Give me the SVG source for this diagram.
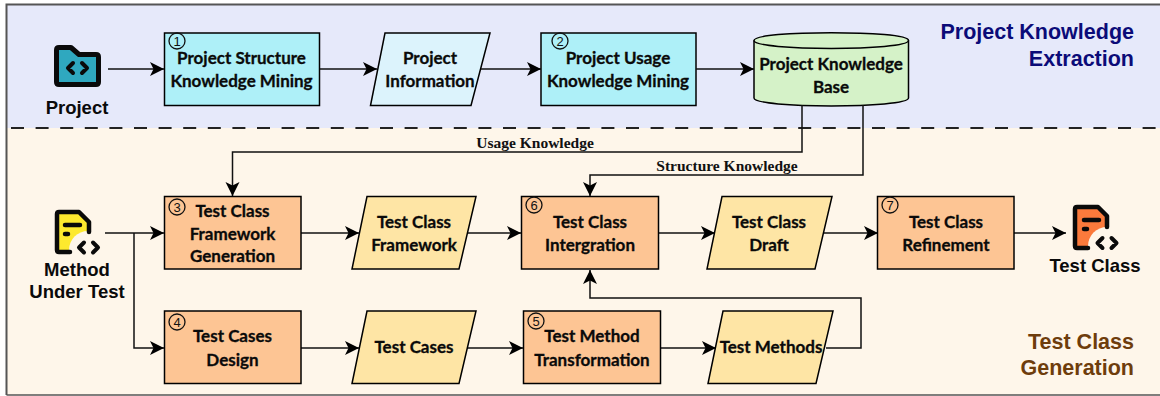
<svg xmlns="http://www.w3.org/2000/svg" width="1160" height="396" viewBox="0 0 1160 396">
<style>
text{text-anchor:middle}
.l{font:bold 17px Lato,"Liberation Sans",sans-serif;fill:#0a0a0a;stroke:#0a0a0a;stroke-width:.3}
.a{font:bold 18.5px "Liberation Sans",Arial,sans-serif;fill:#0a0a0a}
.t{font:bold 15.500px "Liberation Serif",serif;fill:#111}
.h{font:bold 21.5px "Liberation Sans",Arial,sans-serif;text-anchor:end}
.d{font:13px "Liberation Sans",Arial,sans-serif;fill:#111}
.r{fill:none;stroke:#111;stroke-width:1.3}
.s{stroke:#000;stroke-width:1.5}
.c path{fill:none;stroke:#111;stroke-width:1.5}
.o{fill:none;stroke:#0a0a0a;stroke-width:4.5;stroke-linejoin:round;stroke-linecap:round}
</style>
<defs>
<marker id="m" markerUnits="userSpaceOnUse" markerWidth="15" markerHeight="16" refX="14" refY="7" orient="auto"><path d="M0 0L14 7L0 14L3.5 7Z" fill="#000"/></marker>
<path id="code" d="M-4.500 -5L-9.500 0L-4.500 5M4.500 -5L9.500 0L4.500 5" fill="none" stroke="#0a0a0a" stroke-width="4" stroke-linecap="round" stroke-linejoin="round"/>
</defs>
<rect x="6.500" y="4.500" width="1160" height="123.500" fill="#e6e9fa"/>
<rect x="6.500" y="128" width="1160" height="267" fill="#fef6ea"/>
<path d="M6.500 395V4.500H1160" fill="none" stroke="#555" stroke-width="2"/>
<path d="M6.500 395H1160" fill="none" stroke="#555" stroke-width="1.500"/>
<path d="M11 128H1160" stroke="#222" stroke-width="2" stroke-dasharray="13 11.600"/>
<g id="title-extraction"><text class="h" x="1134" y="39" fill="#0b0b78">Project Knowledge</text><text class="h" x="1134" y="66" fill="#0b0b78">Extraction</text></g>
<g id="title-generation"><text class="h" x="1134" y="349" fill="#6e3d0c">Test Class</text><text class="h" x="1134" y="375" fill="#6e3d0c">Generation</text></g>
<g id="project"><path class="o" d="M59 47.500H71L79 54.500H96Q98.500 54.500 98.500 57V82Q98.500 84.500 96 84.500H59Q56.500 84.500 56.500 82V50Q56.500 47.500 59 47.500Z" style="fill:#2fa8bf;stroke-width:5"/><use href="#code" x="77.500" y="68"/><text class="a" x="77" y="114">Project</text></g>
<g id="n1"><rect class="s" x="164.500" y="33" width="155" height="72.500" fill="#aef0f8"/><circle class="r" cx="177" cy="41" r="8"/><text class="d" x="177" y="45.500">1</text><text class="l" x="241.500" y="64">Project Structure</text><text class="l" x="241.500" y="87">Knowledge Mining</text></g>
<g id="info"><path class="s" d="M385 33H490L471 105.500H370.500Z" fill="#dcf3fc"/><text class="l" x="430" y="64">Project</text><text class="l" x="430" y="87">Information</text></g>
<g id="n2"><rect class="s" x="541" y="33" width="155" height="72.500" fill="#aef0f8"/><circle class="r" cx="560" cy="41" r="8"/><text class="d" x="560" y="45.500">2</text><text class="l" x="618" y="64">Project Usage</text><text class="l" x="618" y="87">Knowledge Mining</text></g>
<g id="kb"><path class="s" d="M754 40.500C754 30 908.500 30 908.500 40.500V98C908.500 108.500 754 108.500 754 98Z" fill="#d5f2c8"/><path class="s" d="M754 40.500C754 51 908.500 51 908.500 40.500" fill="none"/><text class="l" x="831" y="70">Project Knowledge</text><text class="l" x="831" y="93">Base</text></g>
<g class="c" id="connectors">
<path marker-end="url(#m)" d="M108 69H164"/>
<path marker-end="url(#m)" d="M320 69H377"/>
<path marker-end="url(#m)" d="M481 69H541"/>
<path marker-end="url(#m)" d="M696 69H754"/>
<path marker-end="url(#m)" d="M802 105V152H232.500V196"/>
<path marker-end="url(#m)" d="M863 105V175H590V196"/>
<path marker-end="url(#m)" d="M105 233H164"/>
<path marker-end="url(#m)" d="M134 233V348H164"/>
<path marker-end="url(#m)" d="M301 233H359"/>
<path marker-end="url(#m)" d="M467 233H521"/>
<path marker-end="url(#m)" d="M659 233H715"/>
<path marker-end="url(#m)" d="M824 233H878"/>
<path marker-end="url(#m)" d="M1014 233H1066"/>
<path marker-end="url(#m)" d="M301 348H359"/>
<path marker-end="url(#m)" d="M467 348H523"/>
<path marker-end="url(#m)" d="M661 348H716"/>
<path marker-end="url(#m)" d="M826 348H861V298H590V270"/>
</g>
<text class="t" x="535" y="148">Usage Knowledge</text>
<text class="t" x="727" y="171">Structure Knowledge</text>
<g id="mut"><path d="M57 212H79L89 222V252H57Z" fill="#fde92e"/><circle cx="88" cy="250" r="19" fill="#fef6ea"/><path class="o" d="M70 252H59Q57 252 57 250V214Q57 212 59 212H79L89 222V232"/><path class="o" d="M65 225H80M65 234H68"/><use href="#code" x="88.500" y="247.500"/><text class="a" x="77" y="276">Method</text><text class="a" x="77" y="298">Under Test</text></g>
<g id="n3"><rect class="s" x="164.500" y="196.500" width="136.500" height="72.500" fill="#fdc594"/><circle class="r" cx="177" cy="207" r="8"/><text class="d" x="177" y="211.500">3</text><text class="l" x="232.500" y="217">Test Class</text><text class="l" x="232.500" y="240">Framework</text><text class="l" x="232.500" y="262">Generation</text></g>
<g id="tcf"><path class="s" d="M367 196.500H476L459 269H352Z" fill="#fee5a5"/><text class="l" x="414" y="228">Test Class</text><text class="l" x="414" y="251">Framework</text></g>
<g id="n6"><rect class="s" x="521.500" y="196.500" width="137" height="72.500" fill="#fdc594"/><circle class="r" cx="534" cy="205" r="8"/><text class="d" x="534" y="209.500">6</text><text class="l" x="590" y="228">Test Class</text><text class="l" x="590" y="251">Intergration</text></g>
<g id="draft"><path class="s" d="M722 196.500H832L815 269H707Z" fill="#fee5a5"/><text class="l" x="769" y="228">Test Class</text><text class="l" x="769" y="251">Draft</text></g>
<g id="n7"><rect class="s" x="877.500" y="196.500" width="136.500" height="72.500" fill="#fdc594"/><circle class="r" cx="890" cy="205" r="8"/><text class="d" x="890" y="209.500">7</text><text class="l" x="946" y="228">Test Class</text><text class="l" x="946" y="251">Refinement</text></g>
<g id="tc"><path d="M1075 207H1098L1107 216V248H1075Z" fill="#fb7a3c"/><circle cx="1107" cy="246" r="19" fill="#fef6ea"/><path class="o" d="M1088 248H1077Q1075 248 1075 246V209Q1075 207 1077 207H1098L1107 216V227"/><path class="o" d="M1084 220H1099M1084 229H1087"/><use href="#code" x="1107" y="243"/><text class="a" x="1095" y="272">Test Class</text></g>
<g id="n4"><rect class="s" x="164.500" y="311" width="136.500" height="72.500" fill="#fdc594"/><circle class="r" cx="177" cy="322" r="8"/><text class="d" x="177" y="326.500">4</text><text class="l" x="232.500" y="342">Test Cases</text><text class="l" x="232.500" y="366">Design</text></g>
<g id="cases"><path class="s" d="M367 311H476L459 383.500H352Z" fill="#fee5a5"/><text class="l" x="414" y="353">Test Cases</text></g>
<g id="n5"><rect class="s" x="523.500" y="311" width="137" height="72.500" fill="#fdc594"/><circle class="r" cx="536" cy="321" r="8"/><text class="d" x="536" y="325.500">5</text><text class="l" x="592" y="342">Test Method</text><text class="l" x="592" y="366">Transformation</text></g>
<g id="methods"><path class="s" d="M723 311H833L816 383.500H708Z" fill="#fee5a5"/><text class="l" x="771" y="353">Test Methods</text></g>
</svg>
